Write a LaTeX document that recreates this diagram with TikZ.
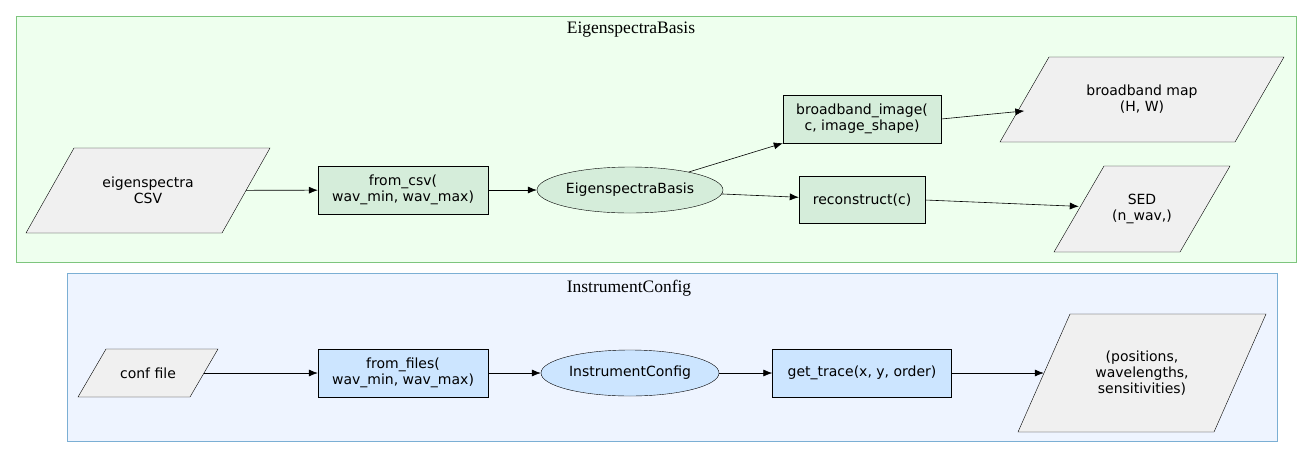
\documentclass[tikz,border=0pt]{standalone}
\usepackage{fontspec}
\setmainfont{Liberation Serif}
\newfontfamily\dv{DejaVu Sans}
\usetikzlibrary{arrows.meta,shapes.geometric}
\definecolor{gfill}{HTML}{EEFFEE}\definecolor{gline}{HTML}{7DC57D}
\definecolor{bfill}{HTML}{EEF4FF}\definecolor{bline}{HTML}{7BAFD4}
\definecolor{gbox}{HTML}{D5EDDA}\definecolor{bbox}{HTML}{CCE5FF}
\definecolor{pfill}{HTML}{F0F0F0}
\begin{document}
\begin{tikzpicture}[x=1pt,y=-1pt,
  lbl/.style={font=\dv\fontsize{14}{16}\selectfont,align=center},
  box/.style={lbl,draw,rectangle,inner sep=0},
  ell/.style={lbl,draw,ellipse,inner sep=0},
  ghost/.style={lbl,rectangle,inner sep=0},
  para/.style={draw,fill=pfill},
  arr/.style={-{Latex[length=9pt,width=7pt]},line width=0.6pt},
  ttl/.style={font=\fontsize{17.5}{20}\selectfont}]
\useasboundingbox (0,0) rectangle (1312,459);
% clusters
\draw[gline,fill=gfill] (16,16) rectangle (1296,262);
\node[ttl] (t1) at (631,30) {EigenspectraBasis};
\draw[bline,fill=bfill] (67,273) rectangle (1277,441);
\node[ttl] (t2) at (629,288) {InstrumentConfig};
% parallelograms
\draw[para] (26,233) -- (74,148) -- (270,148) -- (222,233) -- cycle;
\node[ghost,minimum width=196,minimum height=85] (csv) at (148,190.5) {eigenspectra\\CSV};
\draw[para] (1000,142) -- (1049,57) -- (1284,57) -- (1235,142) -- cycle;
\node[ghost,minimum width=235,minimum height=85] (bmap) at (1142,99.5) {broadband map\\(H, W)};
\draw[para] (1054,252) -- (1104,166) -- (1230,166) -- (1180,252) -- cycle;
\node[ghost,minimum width=126,minimum height=86] (sed) at (1142,209) {SED\\(n\_wav,)};
\draw[para] (78,397) -- (106,349) -- (218,349) -- (190,397) -- cycle;
\node[ghost,minimum width=112,minimum height=48] (conf) at (148,373) {conf file};
\draw[para] (1018,432) -- (1070,314) -- (1266,314) -- (1214,432) -- cycle;
\node[ghost,minimum width=196,minimum height=118] (out) at (1142,373) {(positions,\\wavelengths,\\sensitivities)};
% boxes
\node[box,fill=gbox,minimum width=170,minimum height=48] (fcsv) at (403,190) {from\_csv(\\wav\_min, wav\_max)};
\node[ell,fill=gbox,minimum width=186,minimum height=46] (eb) at (630,190) {EigenspectraBasis};
\node[box,fill=gbox,minimum width=158,minimum height=48] (bimg) at (862,119) {broadband\_image(\\c, image\_shape)};
\node[box,fill=gbox,minimum width=126,minimum height=47] (rec) at (862,200) {reconstruct(c)};
\node[box,fill=bbox,minimum width=170,minimum height=48] (ffiles) at (403,373) {from\_files(\\wav\_min, wav\_max)};
\node[ell,fill=bbox,minimum width=178,minimum height=46] (ic) at (630,373) {InstrumentConfig};
\node[box,fill=bbox,minimum width=179,minimum height=48] (gt) at (862,373) {get\_trace(x, y, order)};
% edges
\draw[arr] (csv) -- (fcsv);
\draw[arr] (fcsv) -- (eb);
\draw[arr] (eb) -- (bimg);
\draw[arr] (eb) -- (rec);
\draw[arr] (bimg.east) -- (bmap);
\draw[arr] (rec.east) -- (sed);
\draw[arr] (conf) -- (ffiles);
\draw[arr] (ffiles) -- (ic);
\draw[arr] (ic) -- (gt);
\draw[arr] (gt) -- (out);
\end{tikzpicture}
\end{document}
